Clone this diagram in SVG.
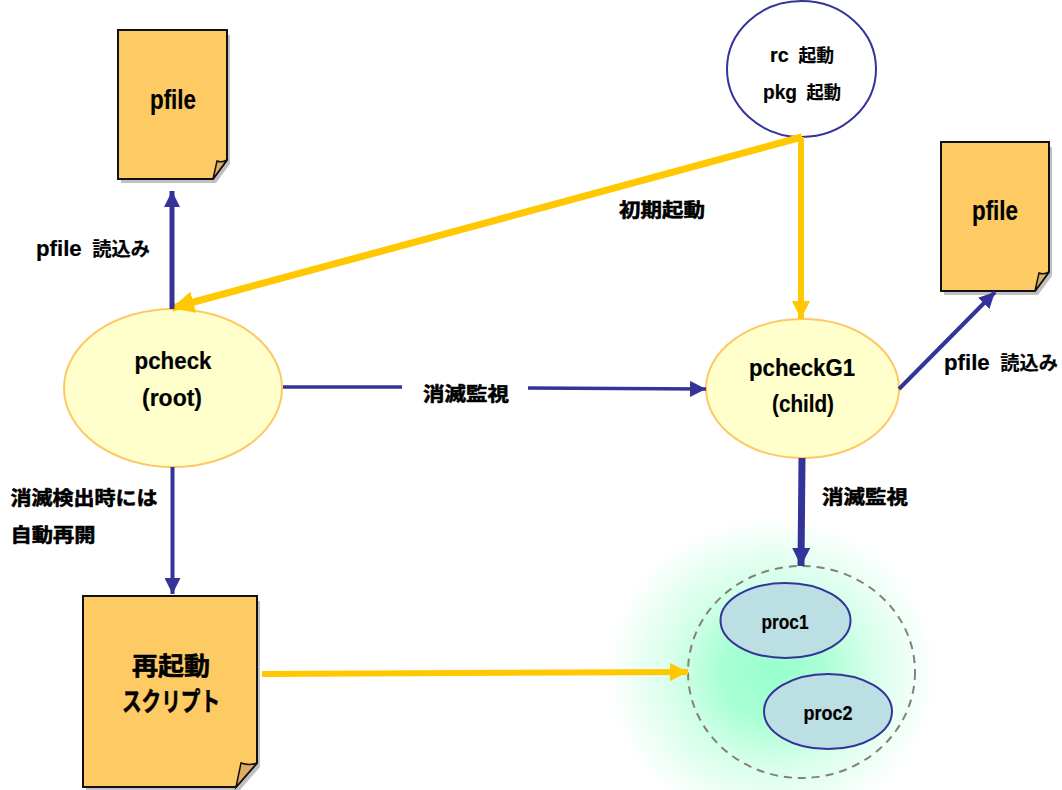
<svg xmlns="http://www.w3.org/2000/svg" width="1062" height="790" viewBox="0 0 1062 790">
<style>
text{font-family:"Liberation Sans","Noto Sans CJK JP",sans-serif;font-weight:700;fill:#000;text-anchor:middle;stroke:#000;stroke-width:.2}
.l{font-size:19px}
.c{stroke-width:.55}
.n{font-family:"Liberation Sans Narrow","Liberation Sans",sans-serif;font-size:22px}
.page{fill:#fdca64;stroke:#111;stroke-width:2}
.sh{fill:#c0c0c0}
.fold{fill:#dcae62;stroke:#111;stroke-width:1.5}
.yl{fill:#ffffcc;stroke:#fdc965;stroke-width:2}
.pr{fill:#bbdfe2;stroke:#333399;stroke-width:2}
.b{stroke:#333399;fill:none}
.y{stroke:#ffc800;fill:none}
</style>
<defs>
<radialGradient id="glow"><stop offset="0" stop-color="#99ffcc"/><stop offset=".3" stop-color="#a8ffd4"/><stop offset=".6" stop-color="#d6ffea"/><stop offset="1" stop-color="#fff"/></radialGradient>
<marker id="mb" markerUnits="userSpaceOnUse" markerWidth="16" markerHeight="16" refX="16" refY="8" orient="auto" viewBox="0 0 16 16"><path d="M0,0L16,8L0,16Z" fill="#333399"/></marker>
<marker id="mbb" markerUnits="userSpaceOnUse" markerWidth="18" markerHeight="18" refX="18" refY="9" orient="auto" viewBox="0 0 18 18"><path d="M0,0L18,9L0,18Z" fill="#333399"/></marker>
<marker id="my" markerUnits="userSpaceOnUse" markerWidth="18" markerHeight="18" refX="18" refY="9" orient="auto" viewBox="0 0 18 18"><path d="M0,0L18,9L0,18Z" fill="#ffc800"/></marker>
<marker id="myl" markerUnits="userSpaceOnUse" markerWidth="22" markerHeight="22" refX="22" refY="11" orient="auto" viewBox="0 0 22 22"><path d="M0,0L22,11L0,22Z" fill="#ffc800"/></marker>
</defs>
<ellipse cx="772" cy="672" rx="165" ry="155" fill="url(#glow)"/>
<g id="pfile1">
<path class="sh" d="M121,35H230V164L216,183H121Z"/>
<path class="page" d="M118,30H227V160L213,179H118Z"/>
<path class="fold" d="M213,179L217,161Q222,163 227,160Z"/>
<text x="173" y="109" font-size="27" textLength="46" lengthAdjust="spacingAndGlyphs">pfile</text>
</g>
<g id="pfile2">
<path class="sh" d="M944,147H1052V276L1038,295H944Z"/>
<path class="page" d="M941,142H1049V272L1035,291H941Z"/>
<path class="fold" d="M1035,291L1039,273Q1044,275 1049,272Z"/>
<text x="995" y="220" font-size="27" textLength="46" lengthAdjust="spacingAndGlyphs">pfile</text>
</g>
<g id="script">
<path class="sh" d="M86,601H260V767L240,790H86Z"/>
<path class="page" d="M83,596H257V763L236,787H83Z"/>
<path class="fold" d="M236,787L241,763Q250,766 257,763Z"/>
<text class="c" x="171" y="675" font-size="25" textLength="78" lengthAdjust="spacingAndGlyphs">再起動</text>
<text class="c" x="171" y="711" font-size="26" textLength="98" lengthAdjust="spacingAndGlyphs">スクリプト</text>
</g>
<g id="rc">
<ellipse cx="801.5" cy="69" rx="74.5" ry="68" fill="#fff" stroke="#333399" stroke-width="2"/>
<text x="802" y="62" style="font-size:18px" textLength="64" lengthAdjust="spacingAndGlyphs" xml:space="preserve"><tspan class="n" style="font-size:20px">rc</tspan>  起動</text>
<text x="802" y="99" style="font-size:18px" textLength="78" lengthAdjust="spacingAndGlyphs" xml:space="preserve"><tspan class="n" style="font-size:20px">pkg</tspan>  起動</text>
</g>
<g id="pcheck">
<ellipse class="yl" cx="173" cy="388" rx="109" ry="79"/>
<text x="173" y="369" font-size="24" textLength="77" lengthAdjust="spacingAndGlyphs">pcheck</text>
<text x="172" y="406" font-size="24" textLength="60" lengthAdjust="spacingAndGlyphs">(root)</text>
</g>
<g id="pcheckG1">
<ellipse class="yl" cx="802.5" cy="388.5" rx="96.5" ry="69.5"/>
<text x="802" y="376" font-size="24" textLength="106" lengthAdjust="spacingAndGlyphs">pcheckG1</text>
<text x="803" y="412" font-size="24" textLength="62" lengthAdjust="spacingAndGlyphs">(child)</text>
</g>
<g id="group"><ellipse cx="801.5" cy="672" rx="113.5" ry="106" fill="none" stroke="#857f7f" stroke-width="2" stroke-dasharray="8 6"/></g>
<g id="proc1"><ellipse class="pr" cx="785.5" cy="620.5" rx="65" ry="37.5"/><text x="785" y="629" font-size="20" textLength="47" lengthAdjust="spacingAndGlyphs">proc1</text></g>
<g id="proc2"><ellipse class="pr" cx="828" cy="711.5" rx="64" ry="37.5"/><text x="828" y="720" font-size="20" textLength="49" lengthAdjust="spacingAndGlyphs">proc2</text></g>
<g id="connectors">
<path class="y" stroke-width="7" d="M802,137L172,308" marker-end="url(#myl)"/>
<path class="y" stroke-width="6" d="M801,137V319" marker-end="url(#my)"/>
<path class="b" stroke-width="5" d="M172,309V191" marker-end="url(#mb)"/>
<path class="b" stroke-width="3.5" d="M283,387H402"/>
<path class="b" stroke-width="3.5" d="M528,388L706,389" marker-end="url(#mb)"/>
<path class="b" stroke-width="4" d="M899,389L995,292" marker-end="url(#mb)"/>
<path class="b" stroke-width="7" d="M802,458L801,566" marker-end="url(#mbb)"/>
<path class="b" stroke-width="4" d="M172.5,467V594" marker-end="url(#mb)"/>
<path class="y" stroke-width="6" d="M262,674L688,672" marker-end="url(#my)"/>
</g>
<g id="labels">
<text x="93" y="256" class="l" textLength="114" lengthAdjust="spacingAndGlyphs" xml:space="preserve"><tspan class="n">pfile</tspan>  読込み</text>
<text x="1001" y="370" class="l" textLength="114" lengthAdjust="spacingAndGlyphs" xml:space="preserve"><tspan class="n">pfile</tspan>  読込み</text>
<text x="662" y="217" class="l c" textLength="86" lengthAdjust="spacingAndGlyphs">初期起動</text>
<text x="466" y="401" class="l c" textLength="86" lengthAdjust="spacingAndGlyphs">消滅監視</text>
<text x="865" y="504" class="l c" textLength="86" lengthAdjust="spacingAndGlyphs">消滅監視</text>
<text x="84" y="505" class="l c" textLength="147" lengthAdjust="spacingAndGlyphs">消滅検出時には</text>
<text x="53" y="542" class="l c" textLength="85" lengthAdjust="spacingAndGlyphs">自動再開</text>
</g>
</svg>
